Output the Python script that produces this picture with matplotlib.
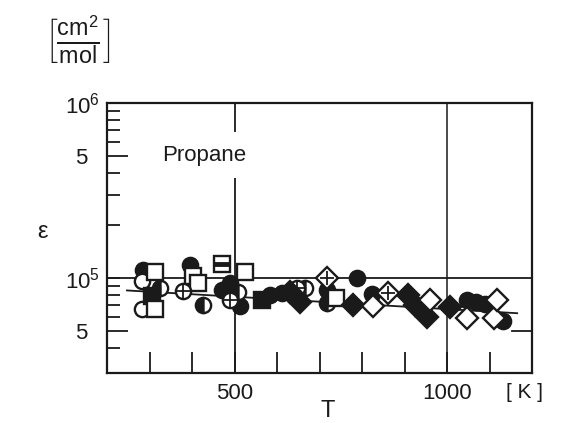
import numpy as np
import matplotlib.pyplot as plt

plt.rcParams['font.family'] = ['Liberation Sans', 'DejaVu Sans']
plt.rcParams['mathtext.fontset'] = 'custom'
plt.rcParams['mathtext.rm'] = 'Liberation Sans'
plt.rcParams['mathtext.it'] = 'Liberation Sans:italic'
plt.rcParams['mathtext.bf'] = 'Liberation Sans:bold'

ink = '#1a1a1a'

# measured points, grouped by symbol (T in K, eps in cm2/mol)
fc_T = [285, 395, 471, 489, 513, 584, 612, 718, 788, 824, 1047, 1068, 1089, 1132]
fc_e = [1.11e5, 1.19e5, 8.5e4, 9.4e4, 6.9e4, 8.0e4, 8.2e4, 8.5e4, 1.0e5, 8.1e4, 7.5e4, 7.3e4, 7.1e4, 5.7e4]

oc_T = [282, 282]
oc_e = [9.6e4, 6.65e4]

hc_T = [325, 426, 508, 666, 718]
hc_e = [8.8e4, 7.0e4, 8.3e4, 8.8e4, 7.2e4]

fs_T = [306, 565]
fs_e = [7.9e4, 7.5e4]

os_T = [313, 313, 402, 414, 525, 739]
os_e = [1.08e5, 6.7e4, 1.03e5, 9.4e4, 1.08e5, 7.7e4]

bs_T = [471]
bs_e = [1.2e5]

xc_T = [379, 489, 647]
xc_e = [8.4e4, 7.5e4, 8.8e4]

fd_T = [631, 654, 779, 908, 925, 953, 1007]
fd_e = [8.3e4, 7.3e4, 7.0e4, 8.0e4, 7.0e4, 6.0e4, 6.8e4]

od_T = [826, 960, 1047, 1111, 1118]
od_e = [6.9e4, 7.5e4, 5.9e4, 5.9e4, 7.5e4]

xd_T = [718, 861]
xd_e = [1.0e5, 8.2e4]

# fitted line
fit_T = [247, 1165]
fit_e = [8.5e4, 6.3e4]

fig = plt.figure(figsize=(5.71, 4.23), dpi=100)
ax = fig.add_axes([107/571, 1-373/423, 425/571, 270/423])

ax.set_xlim(200, 1200)
ax.set_ylim(2.87e4, 1e6)
ax.set_yscale('log')

# grid lines
ax.axvline(500, color=ink, lw=1.3, zorder=1)
ax.axvline(1000, color=ink, lw=1.1, zorder=1)
ax.axhline(1e5, color=ink, lw=1.3, zorder=1)
ax.axhline(5e4, xmin=1-20/425, xmax=1, color=ink, lw=1.3)

ax.plot(fit_T, fit_e, color=ink, lw=1.3, zorder=2)

ms = 11
mew = 1.7
common = dict(ls='none', markersize=ms, markeredgewidth=mew, markeredgecolor=ink, zorder=3)
ax.plot(fc_T, fc_e, 'o', markerfacecolor=ink, **common)
ax.plot(oc_T, oc_e, 'o', markerfacecolor='white', **common)
ax.plot(hc_T, hc_e, 'o', fillstyle='left', markerfacecolor=ink, markerfacecoloralt='white', **common)
ax.plot(fs_T, fs_e, 's', markerfacecolor=ink, **common)
ax.plot(os_T, os_e, 's', markerfacecolor='white', **common)
ax.plot(bs_T, bs_e, 's', markerfacecolor='white', **common)
ax.plot(bs_T, bs_e, '_', markersize=ms, markeredgewidth=3.5, color=ink, zorder=3)
ax.plot(xc_T, xc_e, 'o', markerfacecolor='white', **common)
ax.plot(xc_T, xc_e, '+', markersize=ms*0.9, markeredgewidth=1.3, color=ink, zorder=3)
ax.plot(fd_T, fd_e, 'D', markerfacecolor=ink, **common)
ax.plot(od_T, od_e, 'D', markerfacecolor='white', **common)
ax.plot(xd_T, xd_e, 'D', markerfacecolor='white', **common)
ax.plot(xd_T, xd_e, '+', markersize=ms*0.9, markeredgewidth=1.3, color=ink, zorder=3)

# ticks
ax.set_xticks([500, 1000])
ax.set_xticklabels(['500', '1000'])
ax.set_xticks([300, 400, 600, 700, 800, 900, 1100], minor=True)
ax.xaxis.set_minor_formatter(plt.NullFormatter())

ax.set_yticks([5e4, 5e5])
ax.set_yticklabels(['5', '5'])
minor_y = [4e4, 6e4, 7e4, 8e4, 9e4, 1e5, 2e5, 3e5, 4e5, 6e5, 7e5, 8e5, 9e5, 1e6]
ax.set_yticks(minor_y, minor=True)
ax.set_yticklabels(['$10^5$' if v == 1e5 else ('$10^6$' if v == 1e6 else '') for v in minor_y], minor=True)

ax.tick_params(axis='x', which='both', direction='in', length=15, width=1.3,
               color=ink, labelsize=16, pad=7, labelcolor=ink)
ax.tick_params(axis='y', which='major', direction='in', length=15, width=1.3,
               color=ink, labelsize=16, pad=14, labelcolor=ink)
ax.tick_params(axis='y', which='minor', direction='in', length=9, width=1.3,
               color=ink, labelsize=16, pad=5, labelcolor=ink)

for s in ax.spines.values():
    s.set_linewidth(1.6)
    s.set_color(ink)

ax.text(0.13, 0.807, 'Propane', transform=ax.transAxes, fontsize=16, color=ink,
        ha='left', va='center', zorder=4,
        bbox=dict(facecolor='white', edgecolor='none', pad=9))

fig.text(525/571, 1-392/423, '[ K ]', fontsize=15, color=ink, ha='center', va='center')
fig.text(328/571, 1-411/423, 'T', fontsize=17, color=ink, ha='center', va='center')
fig.text(43/571, 1-232/423, 'ε', fontsize=17, color=ink, ha='center', va='center')
fig.text(78/571, 1-40/423, r'$\left[\frac{\mathrm{cm}^2}{\mathrm{mol}}\right]$',
         fontsize=24, color=ink, ha='center', va='center')

fig.savefig('out.png', dpi=100)
